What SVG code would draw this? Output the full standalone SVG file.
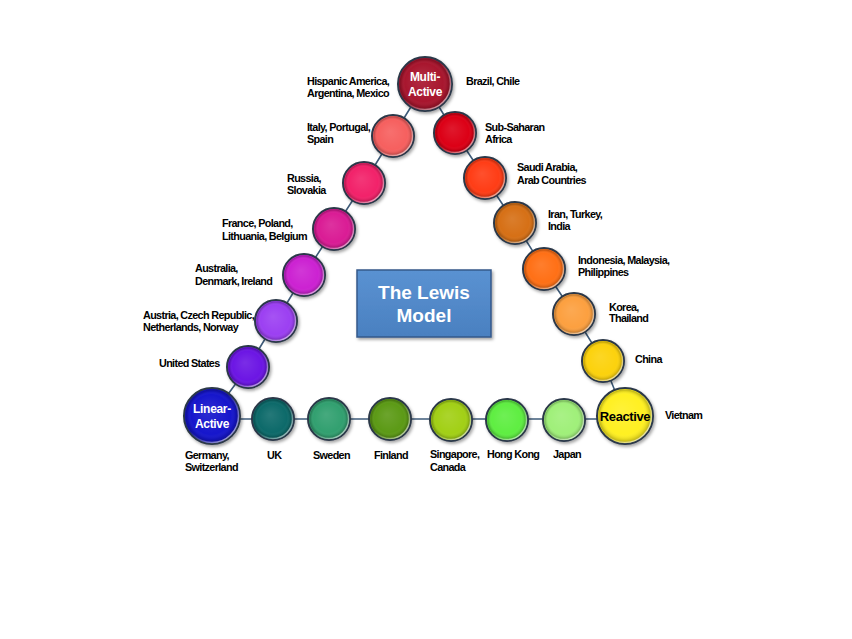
<svg xmlns="http://www.w3.org/2000/svg" width="852" height="639" viewBox="0 0 852 639">
<defs>
<radialGradient id="shade" cx="50%" cy="50%" r="50%" fx="42%" fy="38%">
<stop offset="0" stop-color="#ffffff" stop-opacity="0.1"/>
<stop offset="0.75" stop-color="#ffffff" stop-opacity="0"/>
<stop offset="0.9" stop-color="#000000" stop-opacity="0.1"/>
<stop offset="1" stop-color="#000000" stop-opacity="0.28"/>
</radialGradient>
<linearGradient id="rim" x1="0" y1="0" x2="1" y2="1">
<stop offset="0.45" stop-color="#ffffff" stop-opacity="0"/>
<stop offset="0.85" stop-color="#ffffff" stop-opacity="0.55"/>
</linearGradient>
<filter id="sh" x="-30%" y="-30%" width="160%" height="160%">
<feDropShadow dx="1.5" dy="2" stdDeviation="1.5" flood-color="#000" flood-opacity="0.35"/>
</filter>
<linearGradient id="boxg" x1="0" y1="0" x2="0" y2="1">
<stop offset="0" stop-color="#5a92d2"/>
<stop offset="1" stop-color="#4a80c0"/>
</linearGradient>
</defs>
<style>
.c{stroke:#2c3848;stroke-width:2;filter:url(#sh)}
.o{fill:url(#shade);stroke:url(#rim);stroke-width:1.5}
.t{font-family:"Liberation Sans",Arial,sans-serif;font-weight:bold;font-size:10.8px;letter-spacing:-0.65px;fill:#000}
.w{font-family:"Liberation Sans",Arial,sans-serif;font-weight:bold;font-size:12px;letter-spacing:-0.3px;fill:#fff;text-anchor:middle}
.k{font-family:"Liberation Sans",Arial,sans-serif;font-weight:bold;font-size:13px;letter-spacing:-0.4px;fill:#000;text-anchor:middle}
.ln{stroke:#3d5a78;stroke-width:1.6;fill:none}
</style>
<rect width="852" height="639" fill="#ffffff"/>
<g id="connectors">
<polyline class="ln" points="425,84 393,136 364,183 334,229 304,275 276,321 248,367 212,416"/>
<polyline class="ln" points="425,84 455,133 485,178 515,223 544,269 574,314 603,361 625,416"/>
<line class="ln" x1="212" y1="419" x2="625" y2="419"/>
</g>
<g id="box">
<rect x="357" y="270" width="134" height="67" fill="url(#boxg)" stroke="#35598a" stroke-width="1.5" filter="url(#sh)"/>
<text x="424" y="299" font-family="Liberation Sans,Arial,sans-serif" font-weight="bold" font-size="19" fill="#fff" text-anchor="middle">The Lewis</text>
<text x="424" y="322" font-family="Liberation Sans,Arial,sans-serif" font-weight="bold" font-size="19" fill="#fff" text-anchor="middle">Model</text>
</g>
<g id="multi-active">
<circle class="c" cx="425" cy="84" r="27" fill="#a8122e"/><circle class="o" cx="425" cy="84" r="25.5"/>
<text class="w" x="425" y="81">Multi-</text><text class="w" x="425" y="96">Active</text>
<text class="t" x="307" y="85">Hispanic America,</text><text class="t" x="307" y="97">Argentina, Mexico</text>
<text class="t" x="466" y="85">Brazil, Chile</text>
</g>
<g id="italy">
<circle class="c" cx="393" cy="136" r="21" fill="#f6605f"/><circle class="o" cx="393" cy="136" r="19.5"/>
<text class="t" x="307" y="131">Italy, Portugal,</text><text class="t" x="307" y="143">Spain</text>
</g>
<g id="russia">
<circle class="c" cx="364" cy="183" r="21" fill="#f2246b"/><circle class="o" cx="364" cy="183" r="19.5"/>
<text class="t" x="287" y="182">Russia,</text><text class="t" x="287" y="194">Slovakia</text>
</g>
<g id="france">
<circle class="c" cx="334" cy="229" r="21" fill="#da1a95"/><circle class="o" cx="334" cy="229" r="19.5"/>
<text class="t" x="222" y="227">France, Poland,</text><text class="t" x="222" y="240">Lithuania, Belgium</text>
</g>
<g id="australia">
<circle class="c" cx="304" cy="275" r="21" fill="#cc22d2"/><circle class="o" cx="304" cy="275" r="19.5"/>
<text class="t" x="195" y="272">Australia,</text><text class="t" x="195" y="285">Denmark, Ireland</text>
</g>
<g id="austria">
<circle class="c" cx="276" cy="321" r="21" fill="#9c40f2"/><circle class="o" cx="276" cy="321" r="19.5"/>
<text class="t" x="143" y="319">Austria, Czech Republic,</text><text class="t" x="143" y="331">Netherlands, Norway</text>
</g>
<g id="united-states">
<circle class="c" cx="248" cy="367" r="21" fill="#6c18e4"/><circle class="o" cx="248" cy="367" r="19.5"/>
<text class="t" x="159" y="367">United States</text>
</g>
<g id="linear-active">
<circle class="c" cx="212" cy="416" r="28" fill="#1414cc"/><circle class="o" cx="212" cy="416" r="26.5"/>
<text class="w" x="212" y="413">Linear-</text><text class="w" x="212" y="428">Active</text>
<text class="t" x="185" y="459">Germany,</text><text class="t" x="185" y="471">Switzerland</text>
</g>
<g id="uk">
<circle class="c" cx="273" cy="419" r="21" fill="#0b6b6b"/><circle class="o" cx="273" cy="419" r="19.5"/>
<text class="t" x="267" y="459">UK</text>
</g>
<g id="sweden">
<circle class="c" cx="329" cy="419" r="21" fill="#33a070"/><circle class="o" cx="329" cy="419" r="19.5"/>
<text class="t" x="313" y="459">Sweden</text>
</g>
<g id="finland">
<circle class="c" cx="390" cy="419" r="21" fill="#5c9a12"/><circle class="o" cx="390" cy="419" r="19.5"/>
<text class="t" x="374" y="459">Finland</text>
</g>
<g id="singapore">
<circle class="c" cx="451" cy="420" r="21" fill="#a2d012"/><circle class="o" cx="451" cy="420" r="19.5"/>
<text class="t" x="430" y="458">Singapore,</text><text class="t" x="430" y="471">Canada</text>
</g>
<g id="hong-kong">
<circle class="c" cx="507" cy="420" r="21" fill="#5eee42"/><circle class="o" cx="507" cy="420" r="19.5"/>
<text class="t" x="487" y="458">Hong Kong</text>
</g>
<g id="japan">
<circle class="c" cx="564" cy="420" r="21" fill="#a0f07a"/><circle class="o" cx="564" cy="420" r="19.5"/>
<text class="t" x="553" y="458">Japan</text>
</g>
<g id="reactive">
<circle class="c" cx="625" cy="416" r="28" fill="#fff020"/><circle class="o" cx="625" cy="416" r="26.5"/>
<text class="k" x="625" y="421">Reactive</text>
<text class="t" x="665" y="419">Vietnam</text>
</g>
<g id="china">
<circle class="c" cx="603" cy="361" r="21" fill="#fcd20a"/><circle class="o" cx="603" cy="361" r="19.5"/>
<text class="t" x="635" y="363">China</text>
</g>
<g id="korea">
<circle class="c" cx="574" cy="314" r="21" fill="#fca040"/><circle class="o" cx="574" cy="314" r="19.5"/>
<text class="t" x="609" y="311">Korea,</text><text class="t" x="609" y="322">Thailand</text>
</g>
<g id="indonesia">
<circle class="c" cx="544" cy="269" r="21" fill="#ff7012"/><circle class="o" cx="544" cy="269" r="19.5"/>
<text class="t" x="578" y="264">Indonesia, Malaysia,</text><text class="t" x="578" y="276">Philippines</text>
</g>
<g id="iran">
<circle class="c" cx="515" cy="223" r="21" fill="#d67012"/><circle class="o" cx="515" cy="223" r="19.5"/>
<text class="t" x="548" y="218">Iran, Turkey,</text><text class="t" x="548" y="230">India</text>
</g>
<g id="saudi-arabia">
<circle class="c" cx="485" cy="178" r="21" fill="#ff3c12"/><circle class="o" cx="485" cy="178" r="19.5"/>
<text class="t" x="517" y="171">Saudi Arabia,</text><text class="t" x="517" y="184">Arab Countries</text>
</g>
<g id="sub-saharan">
<circle class="c" cx="455" cy="133" r="21" fill="#dc0612"/><circle class="o" cx="455" cy="133" r="19.5"/>
<text class="t" x="485" y="131">Sub-Saharan</text><text class="t" x="485" y="143">Africa</text>
</g>
</svg>
